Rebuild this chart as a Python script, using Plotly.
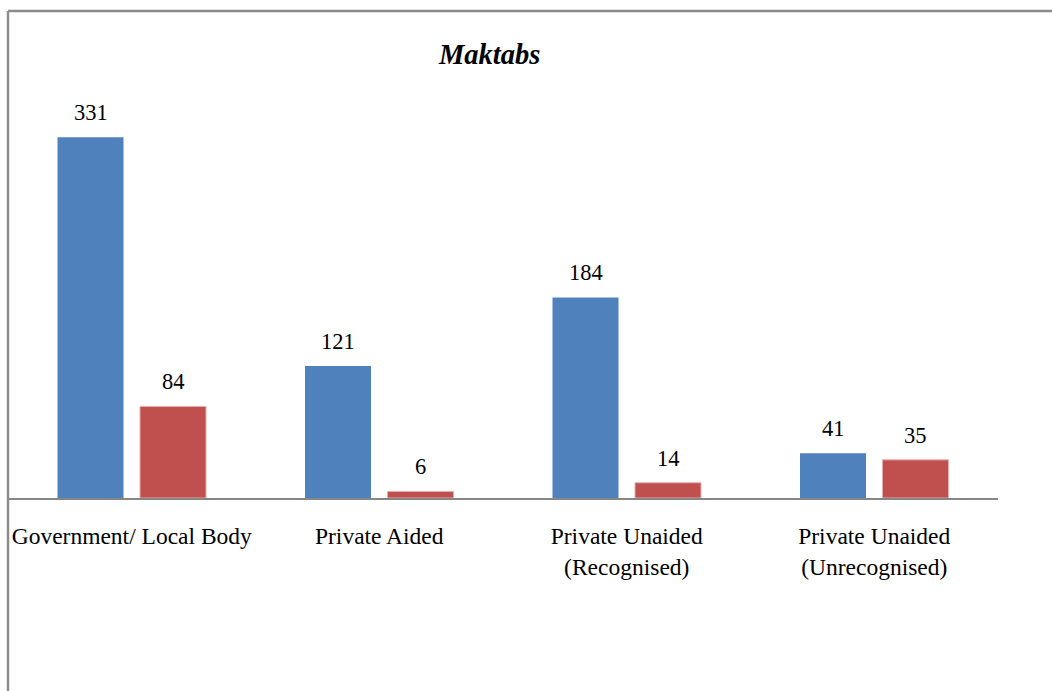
import plotly.graph_objects as go

categories = ["Government/ Local Body", "Private Aided", "Private Unaided<br>(Recognised)", "Private Unaided<br>(Unrecognised)"]
series1 = [331, 121, 184, 41]
series2 = [84, 6, 14, 35]

FONT = "Palatino Linotype, Book Antiqua, Liberation Serif, serif"
BLUE = "#4F81BD"
RED = "#C0504D"

xs = list(range(len(categories)))
W = 0.2667
OFF1 = -0.3
OFF2 = 0.0333

fig = go.Figure()
fig.add_trace(go.Bar(x=xs, y=series1, width=W, offset=OFF1, marker=dict(color=BLUE, line=dict(width=0)), showlegend=False))
fig.add_trace(go.Bar(x=xs, y=series2, width=W, offset=OFF2, marker=dict(color=RED, line=dict(color="#E6B0AE", width=1)), showlegend=False))

ann = []
for i, v in enumerate(series1):
    ann.append(dict(x=i + OFF1 + W / 2, y=v, text=str(v), showarrow=False, xref="x", yref="y",
                    yanchor="bottom", yshift=10, font=dict(family=FONT, size=22.5, color="black")))
for i, v in enumerate(series2):
    ann.append(dict(x=i + OFF2 + W / 2, y=v, text=str(v), showarrow=False, xref="x", yref="y",
                    yanchor="bottom", yshift=10, font=dict(family=FONT, size=22.5, color="black")))
ann.append(dict(x=0.4854, y=1.018, xref="paper", yref="paper", text="<b><i>Maktabs</i></b>", showarrow=False,
                xanchor="center", yanchor="middle", font=dict(family=FONT, size=28.5, color="black")))

H_PLOT = 436.0
fig.update_layout(
    width=1052, height=691,
    margin=dict(l=8, r=54, t=62, b=193, pad=0),
    paper_bgcolor="white", plot_bgcolor="white",
    barmode="overlay",
    annotations=ann,
    xaxis=dict(range=[-0.5, 3.5], tickvals=xs, ticktext=categories, showgrid=False, zeroline=False,
               showline=True, linecolor="#868686", linewidth=2,
               ticks="outside", ticklen=16, tickcolor="rgba(0,0,0,0)",
               tickfont=dict(family=FONT, size=23.5, color="black")),
    yaxis=dict(range=[0, 400], showgrid=False, zeroline=False, showticklabels=False, showline=False),
    shapes=[
        dict(type="line", xref="paper", yref="paper", x0=0, x1=0, y0=(498 - 11) / H_PLOT, y1=(498 - 720) / H_PLOT,
             line=dict(color="#8C8C8C", width=2.5)),
        dict(type="line", xref="paper", yref="paper", x0=0, x1=(1080 - 8) / 990.0, y0=(498 - 11) / H_PLOT, y1=(498 - 11) / H_PLOT,
             line=dict(color="#8C8C8C", width=2.5)),
    ],
)
fig.write_html("out.html")
